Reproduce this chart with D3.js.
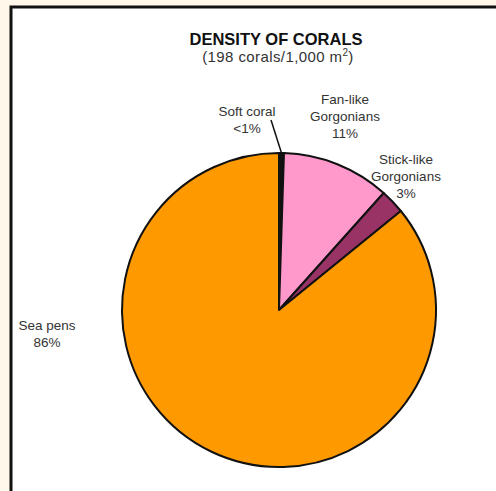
<!DOCTYPE html>
<html>
<head>
<meta charset="utf-8">
<script src="https://cdn.jsdelivr.net/npm/d3@7"></script>
<style>
  html, body { margin: 0; padding: 0; background: #FFF7E9; }
  svg { display: block; }
  text { font-family: "Liberation Sans", Arial, sans-serif; fill: #333; }
</style>
</head>
<body>
<script>
const categories = ["Soft coral", "Fan-like Gorgonians", "Stick-like Gorgonians", "Sea pens"];
const counts = [1, 22, 5, 170];
const pctLabels = ["<1%", "11%", "3%", "86%"];
const colors = ["#111111", "#FF99CC", "#993366", "#FF9900"];
const labelLines = [["Soft coral", "<1%"], ["Fan-like", "Gorgonians", "11%"], ["Stick-like", "Gorgonians", "3%"], ["Sea pens", "86%"]];

const W = 496, H = 491;
const svg = d3.select("body").append("svg").attr("width", W).attr("height", H);

svg.append("rect").attr("x", 11).attr("y", 7).attr("width", W).attr("height", H)
  .attr("fill", "#fff").attr("stroke", "#111").attr("stroke-width", 3);

svg.append("text").attr("x", 276).attr("y", 45).attr("text-anchor", "middle")
  .style("font-weight", "bold").style("font-size", "16.5px").style("fill", "#111")
  .text("DENSITY OF CORALS");
const sub = svg.append("text").attr("x", 278).attr("y", 62).attr("text-anchor", "middle")
  .style("font-size", "15px").style("letter-spacing", "0.4px");
sub.append("tspan").text("(198 corals/1,000 m");
sub.append("tspan").attr("dy", -6).style("font-size", "10px").text("2");
sub.append("tspan").attr("dy", 6).text(")");

const cx = 279, cy = 310, r = 157;
const pie = d3.pie().sort(null).value(d => d)(counts);
const arc = d3.arc().innerRadius(0).outerRadius(r);
const g = svg.append("g").attr("transform", `translate(${cx},${cy})`);
g.selectAll("path").data(pie).join("path")
  .attr("d", arc).attr("fill", (d, i) => colors[i])
  .attr("stroke", "#111").attr("stroke-width", 2).attr("stroke-linejoin", "round");

// leader line for soft coral
const a0 = (pie[0].startAngle + pie[0].endAngle) / 2;
g.append("line")
  .attr("x1", r * Math.sin(a0)).attr("y1", -r * Math.cos(a0))
  .attr("x2", -8).attr("y2", -190)
  .attr("stroke", "#111").attr("stroke-width", 1.5);

const labelPos = [[247, 116], [345, 104], [406, 164], [47, 330]];
const lh = 17;
labelLines.forEach((lines, i) => {
  const t = svg.append("text").attr("text-anchor", "middle").style("font-size", "13.5px");
  lines.forEach((s, k) => {
    t.append("tspan").attr("x", labelPos[i][0]).attr("y", labelPos[i][1] + k * lh).text(s);
  });
});
</script>
</body>
</html>
